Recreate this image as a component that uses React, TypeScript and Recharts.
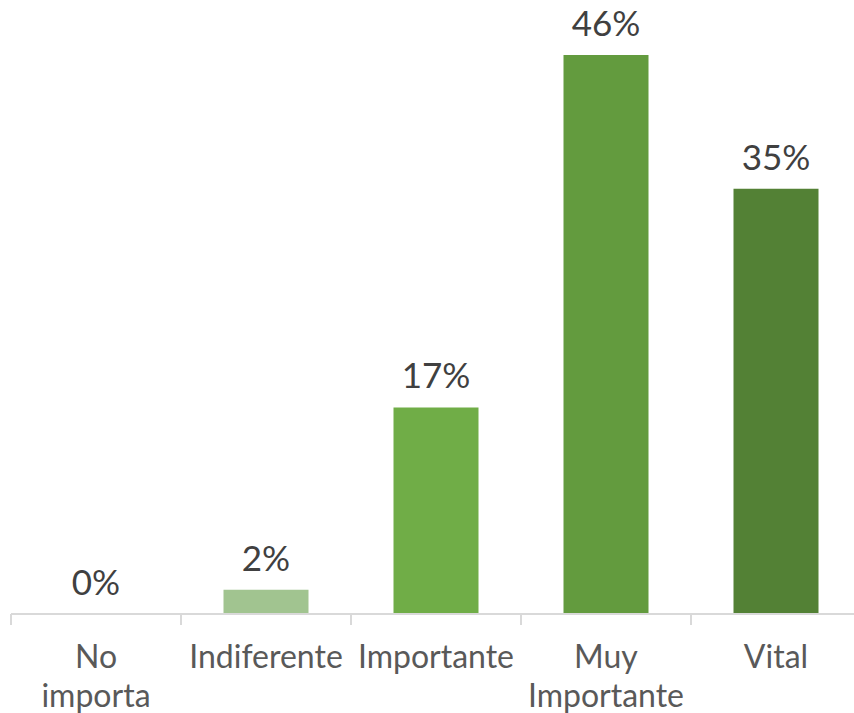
import React from 'react';
import { BarChart, Bar, XAxis, YAxis, Cell, LabelList } from 'recharts';

const categories = ['No importa', 'Indiferente', 'Importante', 'Muy Importante', 'Vital'];
const values = [0, 2, 17, 46, 35];
const colors = ['#C5E0B4', '#A1C490', '#70AD47', '#639B3E', '#538135'];

const data = categories.map((c, i) => ({ name: c, value: values[i] }));

const FONT = 'Lato, "Noto Sans", sans-serif';

const CatTick = (props: any) => {
  const { x, y, payload } = props;
  const half = payload && payload.offset ? payload.offset : 85;
  const words = String(payload.value).split(' ');
  return (
    <g>
      <line x1={x - half} y1={y - 8} x2={x - half} y2={y + 3} stroke="#D9D9D9" strokeWidth={2} />
      <text x={x} y={y} textAnchor="middle" fill="#595959" fontSize={32} fontFamily={FONT}>
        {words.map((w, i) => (
          <tspan key={i} x={x} y={y + 46 + i * 39}>{w}</tspan>
        ))}
      </text>
    </g>
  );
};

export default function App() {
  return (
    <div style={{ position: 'absolute', left: 0, top: 0, width: 854, height: 713, overflow: 'hidden', background: '#fff' }}>
      <BarChart
        width={870}
        height={713}
        data={data}
        margin={{ top: 55, right: 9, bottom: 0, left: 11 }}
        barCategoryGap="25%"
      >
        <XAxis
          dataKey="name"
          interval={0}
          height={99}
          axisLine={{ stroke: '#D9D9D9', strokeWidth: 2 }}
          tickLine={false}
          tick={<CatTick />}
        />
        <YAxis hide domain={[0, 46]} />
        <Bar dataKey="value" isAnimationActive={false} minPointSize={0.01}>
          {data.map((d, i) => (
            <Cell key={i} fill={colors[i]} />
          ))}
          <LabelList
            dataKey="value"
            position="top"
            offset={19}
            formatter={(v: any) => `${v}%`}
            fill="#404040"
            fontSize={35}
            fontFamily={FONT}
          />
        </Bar>
      </BarChart>
    </div>
  );
}
